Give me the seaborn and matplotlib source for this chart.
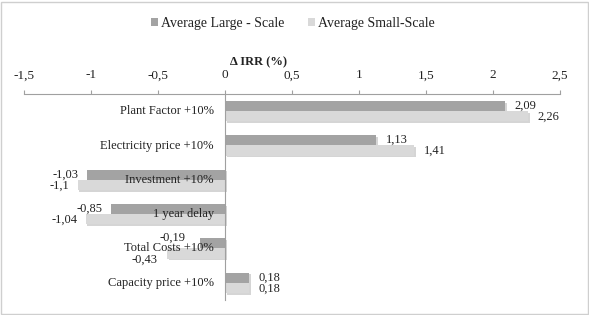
import pandas as pd
import matplotlib.pyplot as plt
import matplotlib.patheffects as pe
from matplotlib.ticker import FuncFormatter, MultipleLocator
from matplotlib.patches import Rectangle, Patch
import seaborn as sns

# ==============================
# Data
# ==============================
categories = ["Plant Factor +10%", "Electricity price +10%", "Investment +10%",
              "1 year delay", "Total Costs +10%", "Capacity price +10%"]
large_scale = [2.09, 1.13, -1.03, -0.85, -0.19, 0.18]
small_scale = [2.26, 1.41, -1.10, -1.04, -0.43, 0.18]
series = ["Average Large - Scale", "Average Small-Scale"]
colors = ["#a3a3a3", "#d9d9d9"]

df = pd.DataFrame({
    "scenario": categories * 2,
    "irr": large_scale + small_scale,
    "series": [series[0]] * len(categories) + [series[1]] * len(categories),
})

# ==============================
# Plot
# ==============================
sns.set_style("white")
plt.rcParams["font.family"] = ["Liberation Serif", "DejaVu Serif"]
TXT = "#222222"

W, H = 589, 315
fig = plt.figure(figsize=(W / 100, H / 100), dpi=100)
ax = fig.add_axes([24 / W, 1 - 300 / H, (560 - 24) / W, (300 - 94) / H])

sns.barplot(data=df, x="irr", y="scenario", hue="series", order=categories,
            hue_order=series, palette=colors, orient="h", width=0.6,
            saturation=1, ax=ax, legend=False)

shadow = [pe.SimplePatchShadow(offset=(1.2, -1.2), shadow_rgbFace="#888888", alpha=0.35),
          pe.Normal()]
for p in ax.patches:
    p.set_path_effects(shadow)
    p.set_edgecolor("none")
    p.set_zorder(1)

ax.set_xlim(-1.5, 2.5)
ax.set_ylim(len(categories) - 0.5, -0.5)

# top x axis
ax.xaxis.set_ticks_position("top")
ax.xaxis.set_major_locator(MultipleLocator(0.5))
ax.xaxis.set_major_formatter(FuncFormatter(lambda v, _: f"{v:g}".replace(".", ",")))
ax.tick_params(axis="x", direction="out", length=3, color="#a0a0a0",
               labelsize=9.5, pad=6, labelcolor=TXT)
ax.set_xlabel("")
ax.set_ylabel("")

# y axis on zero line
for s in ["bottom", "right"]:
    ax.spines[s].set_visible(False)
ax.spines["top"].set_color("#a0a0a0")
ax.spines["left"].set_position(("data", 0))
ax.spines["left"].set_color("#a0a0a0")
ax.spines["left"].set_zorder(3)
ax.set_yticks([])
ax.set_yticks([i + 0.5 for i in range(len(categories))], minor=True)
ax.tick_params(axis="y", which="minor", length=3, color="#a0a0a0", direction="out")

# category labels drawn over the bars
for i, name in enumerate(categories):
    ax.annotate(name, (0, i), xytext=(-8, 0), textcoords="offset points",
                ha="right", va="center", fontsize=9, color=TXT, zorder=5)

# value labels (Excel nudged the small "Total Costs" labels apart)
nudge = {(4, 0): (-4, 4), (4, 1): (-1, -4)}
for i, (a, b) in enumerate(zip(large_scale, small_scale)):
    for k, (v, dy) in enumerate([(a, -0.16), (b, 0.16)]):
        txt = f"{v:g}".replace(".", ",")
        nx, ny = nudge.get((i, k), (0, 0))
        if v >= 0:
            ax.annotate(txt, (v, i + dy), xytext=(7 + nx, ny), textcoords="offset points",
                        ha="left", va="center", fontsize=9, color=TXT, zorder=5)
        else:
            ax.annotate(txt, (v, i + dy), xytext=(-6 + nx, ny), textcoords="offset points",
                        ha="right", va="center", fontsize=9, color=TXT, zorder=5)

fig.text(259 / W, 1 - 62 / H, "Δ IRR (%)", ha="center", va="center",
         fontsize=9, fontweight="bold", color=TXT)

handles = [Patch(facecolor=c, edgecolor="none") for c in colors]
fig.legend(handles, series, loc="center", bbox_to_anchor=(293 / W, 1 - 23 / H),
           ncol=2, frameon=False, fontsize=10, handlelength=0.5, handleheight=0.5,
           columnspacing=1.65, handletextpad=0.25, labelcolor=TXT)

fig.patches.append(Rectangle((1 / W, 1 / H), 587 / W, 312 / H, transform=fig.transFigure,
                             fill=False, edgecolor="#cfcfcf", linewidth=1))

fig.savefig("out.png", dpi=100)
